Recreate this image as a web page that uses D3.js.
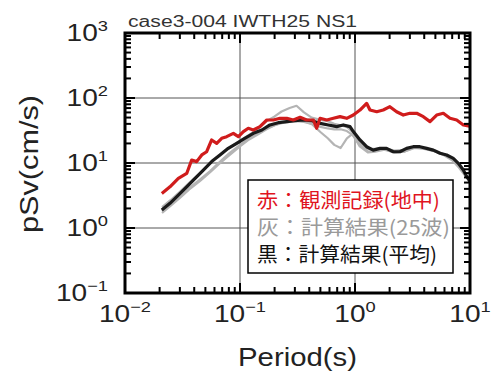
<!DOCTYPE html>
<html><head><meta charset="utf-8">
<script src="https://cdn.jsdelivr.net/npm/d3@7"></script>
<style>body{margin:0;background:#fff}svg{display:block}</style>
</head><body>
<svg id="c" width="491" height="375"></svg>
<script>
const titleText = "case3-004 IWTH25 NS1";
const xTicks = [0.01, 0.1, 1, 10];
const xTickExp = ["\u22122", "\u22121", "0", "1"];
const yTicks = [0.1, 1, 10, 100, 1000];
const yTickExp = ["\u22121", "0", "1", "2", "3"];
const legendLabels = ["赤：観測記録(地中)", "灰：計算結果(25波)", "黒：計算結果(平均)"];

const redT = [0.0209,0.0246,0.0291,0.0344,0.038,0.042,0.0465,0.0513,0.0567,0.0627,0.0693,0.0766,0.0875,0.0968,0.107,0.118,0.1305,0.149,0.171,0.195,0.223,0.255,0.291,0.333,0.38,0.435,0.464,0.497,0.568,0.649,0.741,0.847,0.967,1.105,1.262,1.35,1.545,1.76,2.01,2.3,2.63,3.0,3.44,3.93,4.49,5.13,5.86,6.7,7.66,8.75,9.9];
const redV = [3.4,4.3,5.8,6.9,11.1,10.5,13.3,14.9,22.6,20.1,24,25.4,28.6,25.4,30.4,34.2,32.2,36.3,45.9,45.9,48.7,48.7,45.9,50.5,45.9,45.9,34.2,48.7,45.9,48.7,51.6,48.7,54.7,65.3,82.8,65.3,61.5,65.3,73.5,61.5,54.7,58.2,58.2,51.6,43.3,54.7,58.2,48.7,45.9,38.5,37];

const blackT = [0.0209,0.0246,0.0291,0.0344,0.0407,0.048,0.0567,0.067,0.079,0.0936,0.11,0.1305,0.155,0.182,0.215,0.255,0.301,0.355,0.42,0.497,0.586,0.693,0.791,0.905,0.967,1.105,1.262,1.44,1.65,1.88,2.15,2.46,2.81,3.21,3.67,4.2,4.8,5.48,6.27,7.16,7.92,8.75,9.35,10];
const blackV = [1.89,2.4,3.2,4.3,5.8,7.8,10.5,13.3,16.8,20.1,24,28.6,32.2,38.5,41.7,43.3,44.8,45.9,44.8,40.8,38.5,36.3,38.5,36.3,30.4,22.6,17.8,15.8,16.8,16.8,14.9,14.9,16.8,17.8,17.8,16.8,15.8,14.1,13.3,11.8,9.9,7.8,6.2,5.2];

const grayT = [0.021,0.025,0.03,0.036,0.045,0.055,0.065,0.08,0.1,0.12,0.145,0.17,0.2,0.23,0.27,0.31,0.36,0.42,0.5,0.58,0.66,0.75,0.85,0.95,1.1,1.3,1.5,1.8,2.2,2.7,3.3,4,5,6,7,8,9];
const grayA = [2.1,2.7,3.6,4.9,7,10,13,17,22,27,34,44,52,62,70,76,60,50,46,44,40,38,36,30,20,16.5,16.5,17,15.5,16,17.5,17,15,13.5,11.5,9,7];
const grayB = [1.8,2.3,3.0,4.1,5.6,7.5,10,14,19,24,29,34,38,42,44,45,44,40,30,24,19,17,24,28,18,14.5,15,16,14.5,15,17,16.5,15,13,11,8.5,6.5];
const grayC = [1.7,2.2,2.9,3.9,5.3,7.2,9.5,13,18,23,28,33,38,41,43,44,43,40,36,34,33,33,31,27,19,15,15.5,16.5,14.5,15,17.5,17,15.5,13.5,12,9.5,7];

const svg = d3.select("#c");
const L = 125, R = 470, T = 33, B = 293;
const x = d3.scaleLog().domain([0.01, 10]).range([L, R]);
const y = d3.scaleLog().domain([0.1, 1000]).range([B, T]);
const font = "'Liberation Sans', Arial, sans-serif";

// title
svg.append("text").attr("x", 128).attr("y", 27).attr("font-family", font).attr("font-size", 16)
  .attr("fill", "#333").attr("textLength", 229).attr("lengthAdjust", "spacingAndGlyphs").text(titleText);

// clip
svg.append("clipPath").attr("id", "pc").append("rect").attr("x", L).attr("y", T).attr("width", R - L).attr("height", B - T);

// grid
const grid = svg.append("g").attr("stroke", "#555").attr("stroke-width", 1);
grid.selectAll(".gx").data([0.1, 1]).join("line").attr("x1", d => x(d)).attr("x2", d => x(d))
  .attr("y1", T).attr("y2", B);
grid.selectAll(".gy").data([1, 10, 100]).join("line").attr("x1", L).attr("x2", R)
  .attr("y1", d => y(d)).attr("y2", d => y(d));

// lines
const plot = svg.append("g").attr("clip-path", "url(#pc)");
const line = d3.line().x(d => x(d[0])).y(d => y(d[1]));
[grayA, grayB, grayC].forEach(arr => {
  plot.append("path").attr("d", line(grayT.map((t, i) => [t, arr[i]]))).attr("fill", "none")
    .attr("stroke", "#b4b4b4").attr("stroke-width", 2.2).attr("stroke-linejoin", "round");
});
plot.append("path").attr("d", line(blackT.map((t, i) => [t, blackV[i]]))).attr("fill", "none")
  .attr("stroke", "#1a1a1a").attr("stroke-width", 3.2).attr("stroke-linejoin", "round");
plot.append("path").attr("d", line(redT.map((t, i) => [t, redV[i]]))).attr("fill", "none")
  .attr("stroke", "#d01c1c").attr("stroke-width", 3.2).attr("stroke-linejoin", "round");

// frame
svg.append("rect").attr("x", L).attr("y", T).attr("width", R - L).attr("height", B - T)
  .attr("fill", "none").attr("stroke", "#000").attr("stroke-width", 3);

// ticks (inward on all four sides)
function minors(dom) {
  const out = [];
  const e0 = Math.round(Math.log10(dom[0])), e1 = Math.round(Math.log10(dom[1]));
  for (let e = e0; e < e1; e++)
    for (let k = 2; k <= 9; k++) out.push(k * Math.pow(10, e));
  return out;
}
const xMaj = xTicks, xMin = minors(x.domain());
const yMaj = yTicks, yMin = minors(y.domain());
const tk = svg.append("g").attr("stroke", "#000").attr("stroke-width", 2);
const MJ = 10, MN = 6;
tk.selectAll(".tb1").data(xMin).join("line").attr("x1", d => x(d)).attr("x2", d => x(d)).attr("y1", B).attr("y2", B - MN);
tk.selectAll(".tb2").data(xMaj).join("line").attr("x1", d => x(d)).attr("x2", d => x(d)).attr("y1", B).attr("y2", B - MJ);
tk.selectAll(".tt1").data(xMin).join("line").attr("x1", d => x(d)).attr("x2", d => x(d)).attr("y1", T).attr("y2", T + MN);
tk.selectAll(".tt2").data(xMaj).join("line").attr("x1", d => x(d)).attr("x2", d => x(d)).attr("y1", T).attr("y2", T + MJ);
tk.selectAll(".tl1").data(yMin).join("line").attr("y1", d => y(d)).attr("y2", d => y(d)).attr("x1", L).attr("x2", L + MN);
tk.selectAll(".tl2").data(yMaj).join("line").attr("y1", d => y(d)).attr("y2", d => y(d)).attr("x1", L).attr("x2", L + MJ);
tk.selectAll(".tr1").data(yMin).join("line").attr("y1", d => y(d)).attr("y2", d => y(d)).attr("x1", R).attr("x2", R - MN);
tk.selectAll(".tr2").data(yMaj).join("line").attr("y1", d => y(d)).attr("y2", d => y(d)).attr("x1", R).attr("x2", R - MJ);

// tick labels
xTicks.forEach((v, i) => {
  const t = svg.append("g").attr("transform", `translate(${x(v)},322) scale(1.22,1)`)
    .append("text").attr("text-anchor", "middle").attr("font-family", font).attr("font-size", 23).attr("fill", "#222");
  t.append("tspan").text("10");
  t.append("tspan").attr("dy", -10).attr("font-size", 15).text(xTickExp[i]);
});
yTicks.forEach((v, i) => {
  const t = svg.append("g").attr("transform", `translate(108,${y(v) + 8}) scale(1.22,1)`)
    .append("text").attr("text-anchor", "end").attr("font-family", font).attr("font-size", 23).attr("fill", "#222");
  t.append("tspan").text("10");
  t.append("tspan").attr("dy", -10).attr("font-size", 15).text(yTickExp[i]);
});

// axis titles
svg.append("text").attr("x", 238).attr("y", 366).attr("font-family", font).attr("font-size", 25)
  .attr("fill", "#222").attr("textLength", 119).attr("lengthAdjust", "spacingAndGlyphs").text("Period(s)");
svg.append("text").attr("transform", "translate(38,233) rotate(-90)").attr("font-family", font).attr("font-size", 25)
  .attr("fill", "#222").attr("textLength", 138).attr("lengthAdjust", "spacingAndGlyphs").text("pSv(cm/s)");

// legend
svg.append("rect").attr("x", 248).attr("y", 180).attr("width", 205).attr("height", 93)
  .attr("fill", "#fff").attr("stroke", "#000").attr("stroke-width", 1.5);
const legColors = ["#e0141e", "#9a9a9a", "#111"];
const legLens = [183, 193, 180];
legendLabels.forEach((s, i) => {
  svg.append("text").attr("x", 257).attr("y", 208 + i * 27).attr("font-family", "'Noto Sans CJK JP', sans-serif")
    .attr("font-size", 20).attr("fill", legColors[i]).attr("textLength", legLens[i])
    .attr("lengthAdjust", "spacingAndGlyphs").text(s);
});
</script>
</body></html>
